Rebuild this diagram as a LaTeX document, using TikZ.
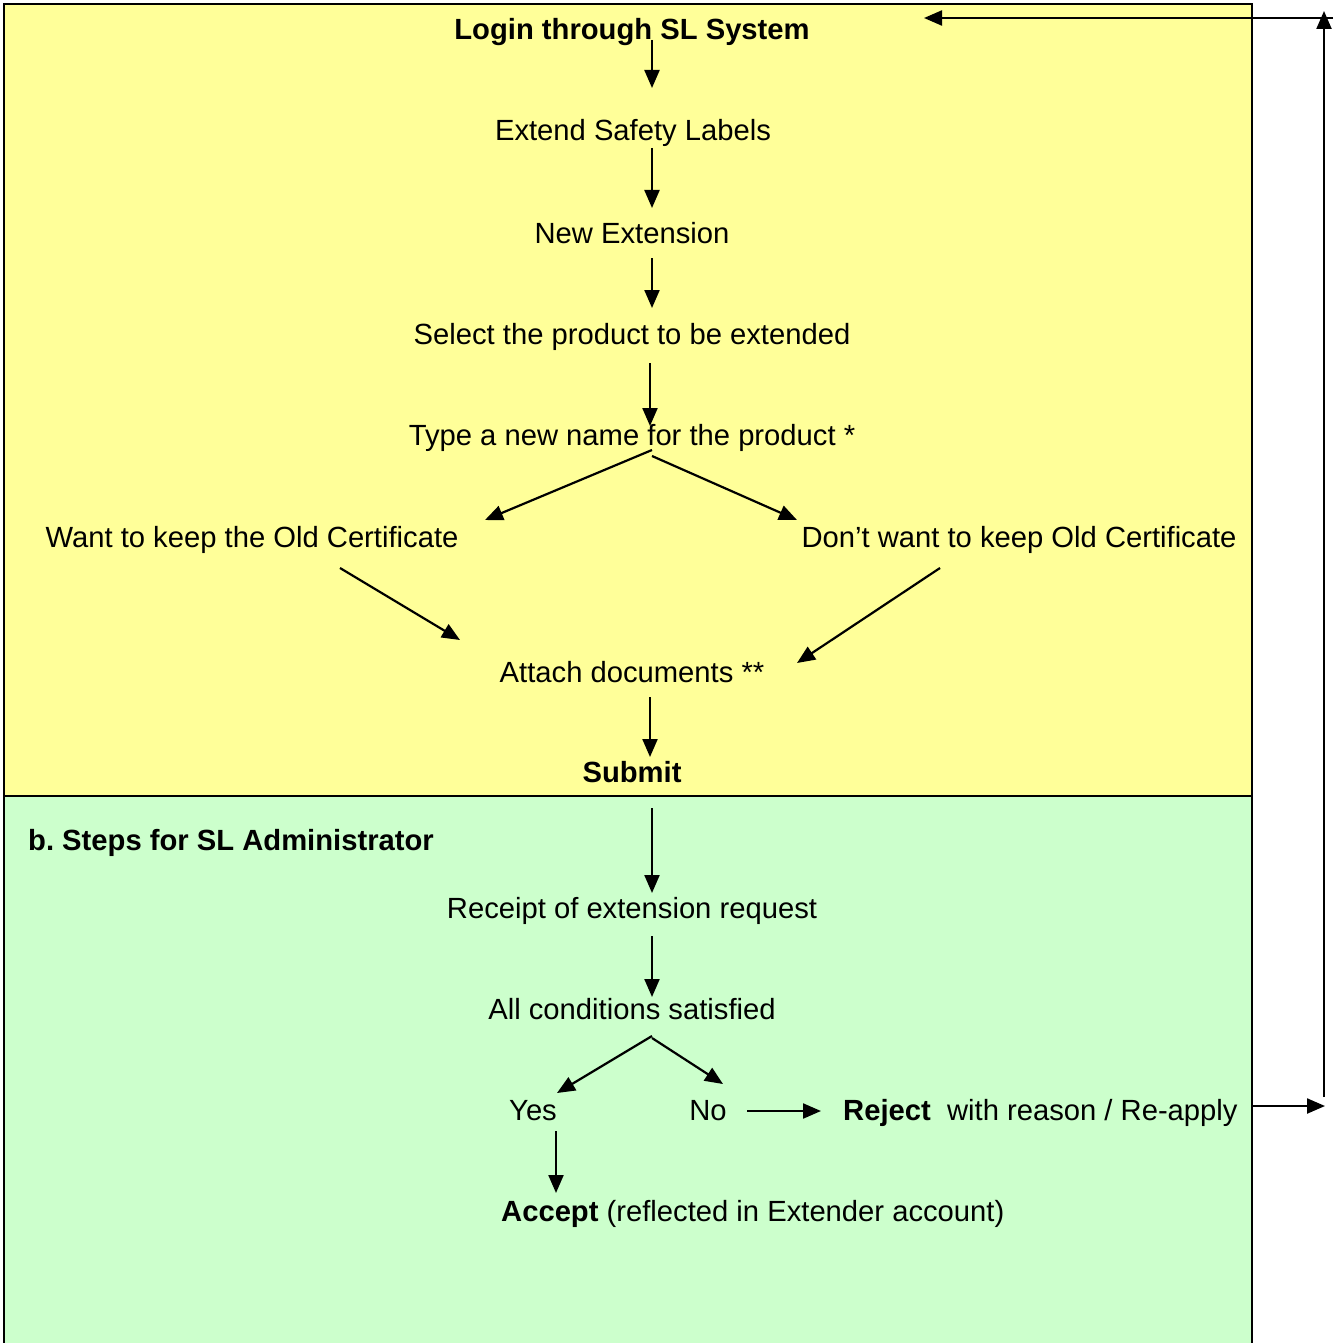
\documentclass[tikz,border=0pt]{standalone}
\usepackage{fontspec}
\setmainfont{Liberation Sans}
\usetikzlibrary{arrows.meta}
\definecolor{ylw}{HTML}{FFFF99}
\definecolor{grn}{HTML}{CCFFCC}
\begin{document}
\frenchspacing
\begin{tikzpicture}[x=1pt,y=-1pt,
  txt/.style={inner sep=0pt,anchor=base,font=\fontsize{29.2}{34}\selectfont},
  btxt/.style={txt,font=\fontsize{29.2}{34}\selectfont\bfseries},
  arr/.style={line width=2.2pt,-{Triangle[length=18pt,width=15pt]}},
  ln/.style={line width=2pt}]
\useasboundingbox (0,0) rectangle (1337,1343);
\fill[ylw] (4,4) rectangle (1252,796);
\fill[grn] (4,796) rectangle (1252,1350);
\draw[ln] (4,1350) -- (4,4) -- (1252,4) -- (1252,1350);
\draw[ln] (4,796) -- (1252,796);

\node[btxt] (login) at (632,40) {Login through SL System};
\node[txt] (extend) at (633,141) {Extend Safety Labels};
\node[txt] (newext) at (632,243) {New Extension};
\node[txt] (select) at (632,344) {Select the product to be extended};
\node[txt] (type) at (632,445) {Type a new name for the product *};
\node[txt] (keep) at (252,547) {Want to keep the Old Certificate};
\node[txt] (dont) at (1019,547) {Don’t want to keep Old Certificate};
\node[txt] (attach) at (632,682) {Attach documents **};
\node[btxt] (submit) at (632,782) {Submit};
\node[btxt,anchor=base west] (steps) at (28,850) {b.\ Steps for SL Administrator};
\node[txt] (receipt) at (632,918) {Receipt of extension request};
\node[txt] (allcond) at (632,1019) {All conditions satisfied};
\node[txt] (yes) at (533,1120) {Yes};
\node[txt] (no) at (708,1120) {No};
\node[txt,anchor=base west] (reject) at (843,1120) {\textbf{Reject}\ \ with reason / Re-apply};
\node[txt,anchor=base west] (accept) at (501,1221) {\textbf{Accept} (reflected in Extender account)};

\coordinate (a1s) at (652,40); \coordinate (a1e) at (652,88);
\coordinate (a2s) at (652,148); \coordinate (a2e) at (652,208);
\coordinate (a3s) at (652,258); \coordinate (a3e) at (652,308);
\coordinate (a4s) at (650,363); \coordinate (a4e) at (650,426);
\coordinate (a5s) at (652,450); \coordinate (a5e) at (485,520);
\coordinate (a6s) at (652,456); \coordinate (a6e) at (797,520);
\coordinate (a7s) at (340,568); \coordinate (a7e) at (460,640);
\coordinate (a8s) at (940,568); \coordinate (a8e) at (797,663);
\coordinate (a9s) at (650,697); \coordinate (a9e) at (650,757);
\coordinate (a10s) at (652,808); \coordinate (a10e) at (652,893);
\coordinate (a11s) at (652,936); \coordinate (a11e) at (652,997);
\coordinate (a12s) at (652,1036); \coordinate (a12e) at (557,1093);
\coordinate (a13s) at (652,1038); \coordinate (a13e) at (723,1084);
\coordinate (a14s) at (556,1131); \coordinate (a14e) at (556,1193);
\coordinate (a15s) at (747,1111); \coordinate (a15e) at (821,1111);
\coordinate (a16s) at (1252,1106); \coordinate (a16e) at (1325,1106);
\coordinate (a17s) at (1324,1097); \coordinate (a17e) at (1324,11);
\coordinate (a18s) at (1333,18); \coordinate (a18e) at (924,18);

\foreach \i in {1,...,18} \draw[arr] (a\i s) -- (a\i e);
\end{tikzpicture}
\end{document}
